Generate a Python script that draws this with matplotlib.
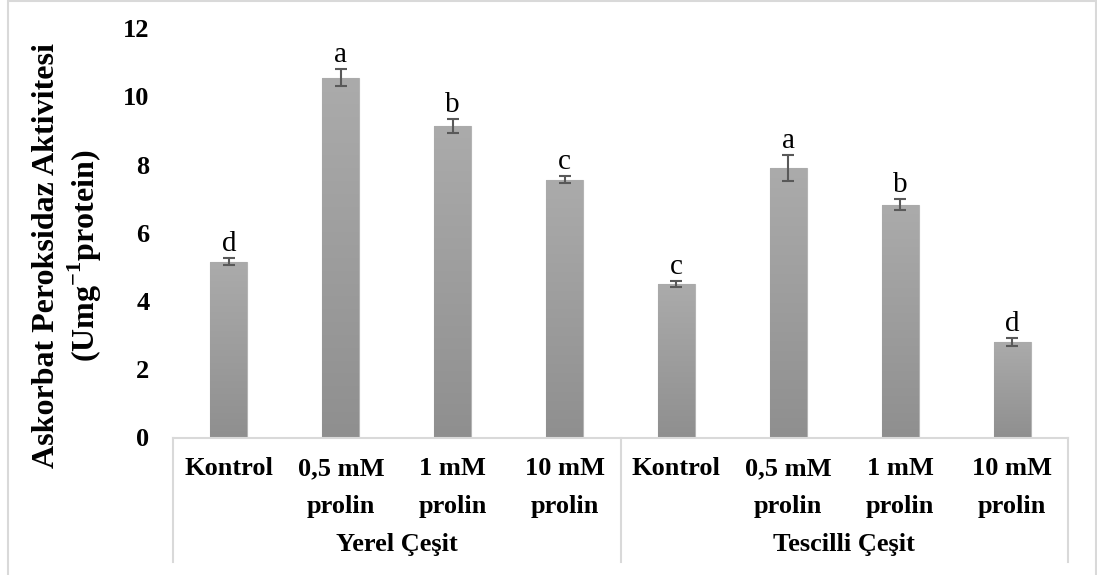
import matplotlib
matplotlib.use("Agg")
import matplotlib.pyplot as plt
import numpy as np
from matplotlib.patches import Rectangle
from matplotlib.colors import LinearSegmentedColormap

# askorbat peroksidaz aktivitesi, iki cesit x dort uygulama
groups = ["Yerel Çeşit", "Tescilli Çeşit"]
treatments = ["Kontrol", "0,5 mM\nprolin", "1 mM\nprolin", "10 mM\nprolin"]
yerel = [5.15, 10.54, 9.13, 7.55]
tescilli = [4.50, 7.90, 6.82, 2.81]
yerel_err = [0.10, 0.25, 0.20, 0.10]
tescilli_err = [0.10, 0.39, 0.16, 0.12]
yerel_harf = ["d", "a", "b", "c"]
tescilli_harf = ["c", "a", "b", "d"]

values = yerel + tescilli
errors = yerel_err + tescilli_err
letters = yerel_harf + tescilli_harf
labels = treatments * len(groups)

plt.rcParams['font.family'] = ['Liberation Serif', 'DejaVu Serif']
plt.rcParams['mathtext.fontset'] = 'custom'
plt.rcParams['mathtext.rm'] = 'Liberation Serif'
plt.rcParams['mathtext.bf'] = 'Liberation Serif:bold'

fig = plt.figure(figsize=(10.97, 5.75), dpi=100)
ax = fig.add_axes([173 / 1097, 1 - 437.5 / 575, (1068 - 173) / 1097, (437.5 - 28) / 575])

x = np.arange(len(values))
bars = ax.bar(x, values, width=0.33, color="#a3a3a3", edgecolor="#b4b4b4", linewidth=0.8, zorder=2)

# hafif dikey gecis (ustte acik, altta koyu)
cmap = LinearSegmentedColormap.from_list("gri", ["#8f8f8f", "#ababab"])
grad = np.linspace(0, 1, 256).reshape(-1, 1)
for b in bars:
    x0, y0 = b.get_x(), b.get_y()
    w, h = b.get_width(), b.get_height()
    im = ax.imshow(grad, cmap=cmap, extent=[x0, x0 + w, y0, y0 + h],
                   aspect="auto", zorder=2.5, origin="lower")
    im.set_clip_path(b)
ax.set_aspect("auto")

ax.errorbar(x, values, yerr=errors, fmt="none", ecolor="#595959", elinewidth=1.5,
            capsize=4.5, capthick=1.5, zorder=3)

for xi, v, e, t in zip(x, values, errors, letters):
    ax.annotate(t, (xi, v + e), xytext=(0, 5), textcoords="offset points",
                ha="center", va="baseline", fontsize=21, color="black")

ax.set_xlim(-0.5, len(values) - 0.5)
ax.set_ylim(0, 12)
ax.set_yticks(range(0, 13, 2))
ax.set_yticklabels([str(v) for v in range(0, 13, 2)], fontsize=19, fontweight="bold")
ax.set_xticks(x)
ax.set_xticklabels(labels, fontsize=19, fontweight="bold", linespacing=1.85)
ax.tick_params(axis="both", length=0)
ax.tick_params(axis="y", pad=17)
ax.tick_params(axis="x", pad=14)

for s in ["left", "top", "right"]:
    ax.spines[s].set_visible(False)
ax.spines["bottom"].set_color("#d9d9d9")
ax.spines["bottom"].set_linewidth(1.5)

# grup ayirici cizgiler ve grup adlari
sep_bottom = -(562 - 437.5) / (437.5 - 28)
for xs in [0, 0.5, 1]:
    ax.plot([xs, xs], [0, sep_bottom], transform=ax.transAxes, color="#d9d9d9",
            lw=1.5, clip_on=False)
for i, g in enumerate(groups):
    ax.text(0.25 + 0.5 * i, -(551 - 437.5) / (437.5 - 28), g, transform=ax.transAxes,
            ha="center", va="baseline", fontsize=19, fontweight="bold")

fig.text(47 / 1097, 1 - 256 / 575, "Askorbat Peroksidaz Aktivitesi", rotation=90,
         ha="center", va="center", fontsize=23, fontweight="bold")
fig.text(85 / 1097, 1 - 256 / 575, r"(Umg$^{\mathbf{-1}}$protein)", rotation=90,
         ha="center", va="center", fontsize=23, fontweight="bold")

# grafik cercevesi
fig.patches.append(Rectangle((8 / 1097, -0.05), (1096 - 8) / 1097, 1.05 - 1.5 / 575,
                             transform=fig.transFigure, fill=False, edgecolor="#d9d9d9", lw=1.5))

fig.savefig("out.png", dpi=100)
